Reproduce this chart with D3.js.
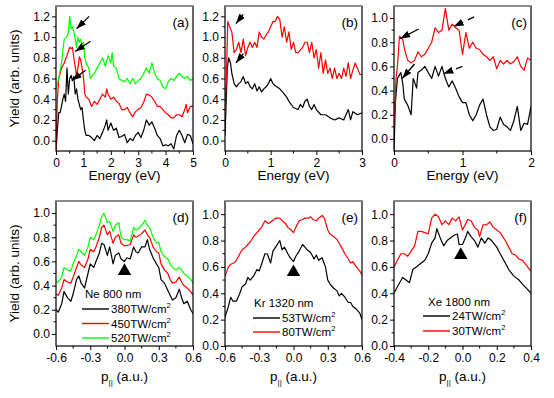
<!DOCTYPE html>
<html>
<head>
<meta charset="utf-8">
<script src="https://cdn.jsdelivr.net/npm/d3@7/dist/d3.min.js"></script>
<style>
  body { margin: 0; background: #fff; }
  svg { font-family: "Liberation Sans", Arial, sans-serif; }
</style>
</head>
<body>
<div id="chart"></div>
<script>
// ---- data: [x, yield] pairs ----
const aBlack = [[0,-0.1],[0.05,0.1],[0.1,0.27],[0.15,0.27],[0.2,0.33],[0.25,0.4],[0.3,0.45],[0.35,0.38],[0.4,0.7],[0.45,0.45],[0.5,0.6],[0.55,0.63],[0.6,0.58],[0.65,0.62],[0.7,0.45],[0.75,0.5],[0.8,0.4],[0.85,0.35],[0.9,0.3],[0.95,0.32],[1.0,0.2],[1.05,0.1],[1.1,0.05],[1.2,0.05],[1.3,0.03],[1.4,0.0],[1.5,0.05],[1.6,0.02],[1.7,0.08],[1.8,0.15],[1.85,0.2],[1.9,0.1],[2.0,0.17],[2.1,0.1],[2.2,0.12],[2.3,0.03],[2.4,0.04],[2.5,0.06],[2.6,-0.02],[2.7,0.02],[2.8,0.0],[2.9,0.05],[3.0,0.08],[3.1,0.03],[3.2,0.1],[3.3,0.2],[3.4,0.15],[3.5,0.18],[3.6,0.12],[3.7,0.05],[3.8,0.02],[3.9,-0.05],[4.0,-0.04],[4.1,-0.05],[4.2,-0.03],[4.3,-0.08],[4.4,0.05],[4.5,0.1],[4.6,0.05],[4.7,-0.02],[4.8,0.06],[4.9,0.05],[5.0,-0.03]];
const aRed = [[0,-0.1],[0.05,0.4],[0.1,0.6],[0.15,0.65],[0.2,0.7],[0.3,0.75],[0.4,0.82],[0.5,0.9],[0.55,0.89],[0.6,0.9],[0.65,0.8],[0.7,0.72],[0.75,0.62],[0.8,0.7],[0.85,0.81],[0.9,0.78],[0.95,0.7],[1.0,0.62],[1.05,0.45],[1.1,0.42],[1.2,0.4],[1.3,0.33],[1.4,0.38],[1.5,0.35],[1.6,0.4],[1.7,0.45],[1.8,0.42],[1.85,0.5],[1.9,0.45],[2.0,0.4],[2.1,0.42],[2.2,0.38],[2.3,0.36],[2.4,0.3],[2.5,0.3],[2.6,0.32],[2.7,0.27],[2.8,0.23],[2.9,0.28],[3.0,0.3],[3.1,0.32],[3.2,0.37],[3.3,0.45],[3.4,0.44],[3.5,0.42],[3.6,0.38],[3.7,0.33],[3.8,0.33],[3.9,0.3],[4.0,0.27],[4.1,0.25],[4.2,0.22],[4.3,0.22],[4.4,0.25],[4.5,0.25],[4.6,0.23],[4.7,0.3],[4.75,0.35],[4.8,0.27],[4.9,0.33],[5.0,0.33]];
const aGreen = [[0,0.5],[0.05,0.55],[0.1,0.6],[0.2,0.75],[0.3,0.98],[0.4,1.0],[0.45,1.05],[0.5,1.2],[0.55,1.08],[0.6,1.1],[0.65,1.05],[0.7,0.98],[0.75,0.9],[0.8,1.0],[0.85,0.95],[0.9,0.98],[0.95,0.92],[1.0,0.95],[1.05,0.8],[1.1,0.75],[1.2,0.7],[1.25,0.6],[1.3,0.62],[1.4,0.65],[1.5,0.7],[1.6,0.75],[1.7,0.8],[1.8,0.72],[1.9,0.82],[2.0,0.75],[2.05,0.85],[2.1,0.72],[2.2,0.7],[2.3,0.6],[2.4,0.58],[2.5,0.57],[2.6,0.6],[2.7,0.55],[2.8,0.6],[2.9,0.55],[3.0,0.58],[3.1,0.6],[3.2,0.65],[3.3,0.7],[3.4,0.65],[3.5,0.75],[3.6,0.65],[3.7,0.6],[3.8,0.58],[3.9,0.52],[4.0,0.5],[4.1,0.57],[4.2,0.6],[4.3,0.58],[4.4,0.62],[4.5,0.65],[4.6,0.62],[4.7,0.6],[4.8,0.62],[4.9,0.58],[5.0,0.6]];

const bBlack = [[0,0.05],[0.02,0.3],[0.05,0.7],[0.08,0.8],[0.12,0.75],[0.15,0.65],[0.2,0.55],[0.25,0.52],[0.3,0.55],[0.35,0.57],[0.4,0.62],[0.45,0.55],[0.5,0.57],[0.55,0.52],[0.6,0.5],[0.65,0.55],[0.7,0.48],[0.75,0.52],[0.8,0.47],[0.85,0.5],[0.9,0.52],[0.95,0.55],[1.0,0.6],[1.05,0.55],[1.1,0.53],[1.2,0.5],[1.3,0.45],[1.35,0.42],[1.4,0.38],[1.5,0.32],[1.6,0.3],[1.65,0.35],[1.7,0.32],[1.75,0.38],[1.8,0.4],[1.85,0.33],[1.9,0.3],[1.95,0.35],[2.0,0.3],[2.1,0.25],[2.2,0.25],[2.3,0.22],[2.4,0.2],[2.5,0.22],[2.6,0.2],[2.7,0.3],[2.75,0.2],[2.8,0.28],[2.9,0.25],[3.0,0.27]];
const bRed = [[0,0.3],[0.03,0.6],[0.06,1.15],[0.1,1.1],[0.15,1.05],[0.2,0.85],[0.25,0.88],[0.3,0.95],[0.35,0.85],[0.4,0.98],[0.45,0.82],[0.5,0.9],[0.55,0.95],[0.6,0.9],[0.65,0.95],[0.7,0.9],[0.75,1.05],[0.8,1.0],[0.85,0.98],[0.9,1.02],[0.95,1.05],[1.0,1.1],[1.05,1.15],[1.1,1.15],[1.15,1.2],[1.2,1.17],[1.25,1.0],[1.3,1.1],[1.35,0.95],[1.4,1.05],[1.45,0.88],[1.5,0.95],[1.55,0.85],[1.6,0.85],[1.7,0.9],[1.75,0.95],[1.8,0.95],[1.85,0.85],[1.9,0.95],[1.95,0.8],[2.0,0.88],[2.05,0.7],[2.1,0.85],[2.15,0.65],[2.2,0.78],[2.25,0.65],[2.3,0.7],[2.35,0.6],[2.4,0.7],[2.45,0.6],[2.5,0.65],[2.55,0.6],[2.6,0.7],[2.65,0.62],[2.7,0.75],[2.75,0.6],[2.8,0.68],[2.85,0.75],[2.9,0.7],[2.95,0.64],[3.0,0.64]];

const cBlack = [[0,-0.1],[0.02,0.3],[0.05,0.5],[0.08,0.53],[0.1,0.55],[0.13,0.45],[0.15,0.33],[0.2,0.28],[0.25,0.2],[0.28,0.5],[0.3,0.47],[0.33,0.42],[0.35,0.55],[0.4,0.57],[0.45,0.6],[0.5,0.55],[0.55,0.5],[0.6,0.6],[0.65,0.52],[0.7,0.6],[0.75,0.5],[0.8,0.43],[0.85,0.48],[0.9,0.42],[0.95,0.35],[1.0,0.3],[1.05,0.3],[1.1,0.2],[1.15,0.15],[1.2,0.2],[1.25,0.28],[1.3,0.33],[1.35,0.2],[1.4,0.1],[1.45,0.07],[1.5,0.08],[1.55,0.18],[1.6,0.12],[1.65,0.1],[1.7,0.07],[1.75,0.15],[1.8,0.27],[1.85,0.07],[1.9,0.13],[1.95,0.12],[2.0,0.27]];
const cRed = [[0,0.1],[0.03,0.5],[0.05,0.6],[0.08,0.85],[0.1,0.84],[0.13,0.82],[0.15,0.75],[0.2,0.65],[0.25,0.63],[0.3,0.65],[0.35,0.72],[0.4,0.68],[0.45,0.7],[0.5,0.75],[0.55,0.8],[0.6,0.92],[0.65,0.88],[0.7,0.9],[0.75,1.08],[0.8,0.9],[0.85,0.95],[0.9,0.92],[0.95,0.9],[1.0,0.7],[1.05,0.88],[1.1,0.75],[1.15,0.8],[1.2,0.75],[1.25,0.74],[1.3,0.7],[1.35,0.68],[1.4,0.65],[1.45,0.68],[1.5,0.58],[1.55,0.65],[1.6,0.62],[1.65,0.65],[1.7,0.62],[1.75,0.64],[1.8,0.68],[1.85,0.6],[1.9,0.57],[1.95,0.67],[2.0,0.65]];

const dBlack = [[-0.6,0.2],[-0.58,0.18],[-0.55,0.25],[-0.53,0.35],[-0.5,0.3],[-0.47,0.27],[-0.45,0.33],[-0.42,0.45],[-0.4,0.48],[-0.38,0.42],[-0.35,0.38],[-0.32,0.5],[-0.3,0.58],[-0.27,0.55],[-0.25,0.6],[-0.22,0.67],[-0.2,0.75],[-0.18,0.74],[-0.15,0.65],[-0.13,0.72],[-0.1,0.58],[-0.08,0.65],[-0.05,0.67],[-0.03,0.62],[0,0.6],[0.02,0.63],[0.05,0.62],[0.08,0.72],[0.1,0.68],[0.12,0.67],[0.15,0.72],[0.18,0.72],[0.2,0.78],[0.22,0.7],[0.25,0.63],[0.28,0.58],[0.3,0.55],[0.32,0.45],[0.35,0.42],[0.38,0.36],[0.4,0.32],[0.42,0.28],[0.45,0.3],[0.48,0.37],[0.5,0.3],[0.52,0.25],[0.55,0.27],[0.58,0.2],[0.6,0.17]];
const dRed = [[-0.6,0.33],[-0.58,0.32],[-0.55,0.38],[-0.53,0.45],[-0.5,0.43],[-0.47,0.42],[-0.45,0.47],[-0.42,0.55],[-0.4,0.6],[-0.38,0.57],[-0.35,0.55],[-0.32,0.62],[-0.3,0.7],[-0.27,0.68],[-0.25,0.72],[-0.22,0.8],[-0.2,0.88],[-0.18,0.9],[-0.15,0.82],[-0.13,0.85],[-0.1,0.75],[-0.08,0.8],[-0.05,0.82],[-0.03,0.75],[0,0.73],[0.02,0.73],[0.05,0.74],[0.08,0.82],[0.1,0.8],[0.12,0.81],[0.15,0.83],[0.18,0.86],[0.2,0.82],[0.22,0.8],[0.25,0.72],[0.28,0.68],[0.3,0.67],[0.32,0.58],[0.35,0.53],[0.38,0.5],[0.4,0.45],[0.42,0.42],[0.45,0.43],[0.48,0.47],[0.5,0.43],[0.52,0.4],[0.55,0.38],[0.58,0.35],[0.6,0.32]];
const dGreen = [[-0.6,0.43],[-0.58,0.43],[-0.55,0.47],[-0.53,0.55],[-0.5,0.53],[-0.47,0.52],[-0.45,0.58],[-0.42,0.65],[-0.4,0.7],[-0.38,0.68],[-0.35,0.65],[-0.32,0.72],[-0.3,0.8],[-0.27,0.78],[-0.25,0.82],[-0.22,0.9],[-0.2,0.97],[-0.18,1.0],[-0.15,0.92],[-0.13,0.93],[-0.1,0.85],[-0.08,0.9],[-0.05,0.92],[-0.03,0.8],[0,0.78],[0.02,0.78],[0.05,0.77],[0.08,0.88],[0.1,0.86],[0.12,0.87],[0.15,0.9],[0.18,0.94],[0.2,0.9],[0.22,0.88],[0.25,0.8],[0.28,0.75],[0.3,0.76],[0.32,0.68],[0.35,0.64],[0.38,0.62],[0.4,0.58],[0.42,0.55],[0.45,0.53],[0.48,0.55],[0.5,0.53],[0.52,0.5],[0.55,0.48],[0.58,0.45],[0.6,0.42]];

const eBlack = [[-0.6,0.22],[-0.57,0.3],[-0.55,0.37],[-0.53,0.34],[-0.5,0.34],[-0.47,0.4],[-0.45,0.45],[-0.42,0.47],[-0.4,0.52],[-0.38,0.5],[-0.35,0.53],[-0.32,0.58],[-0.3,0.57],[-0.28,0.62],[-0.25,0.7],[-0.23,0.7],[-0.2,0.63],[-0.18,0.72],[-0.15,0.76],[-0.12,0.8],[-0.1,0.73],[-0.08,0.75],[-0.05,0.7],[-0.03,0.67],[0,0.64],[0.02,0.68],[0.05,0.72],[0.08,0.77],[0.1,0.75],[0.12,0.73],[0.15,0.71],[0.18,0.66],[0.2,0.69],[0.22,0.65],[0.25,0.67],[0.28,0.6],[0.3,0.5],[0.32,0.47],[0.35,0.44],[0.38,0.42],[0.4,0.38],[0.42,0.4],[0.45,0.37],[0.48,0.33],[0.5,0.33],[0.52,0.3],[0.55,0.28],[0.58,0.25],[0.6,0.2]];
const eRed = [[-0.6,0.53],[-0.57,0.6],[-0.55,0.62],[-0.52,0.63],[-0.5,0.65],[-0.47,0.7],[-0.45,0.73],[-0.42,0.75],[-0.4,0.77],[-0.37,0.8],[-0.35,0.83],[-0.32,0.86],[-0.3,0.88],[-0.28,0.9],[-0.25,0.95],[-0.22,0.93],[-0.2,0.94],[-0.17,0.96],[-0.15,0.97],[-0.12,0.97],[-0.1,0.95],[-0.07,0.93],[-0.05,0.9],[-0.02,0.88],[0,0.86],[0.02,0.9],[0.05,0.95],[0.08,0.96],[0.1,0.97],[0.13,0.97],[0.15,0.98],[0.17,0.96],[0.2,0.95],[0.22,0.97],[0.25,0.99],[0.27,0.97],[0.3,0.88],[0.32,0.85],[0.35,0.83],[0.38,0.81],[0.4,0.78],[0.42,0.75],[0.45,0.7],[0.48,0.66],[0.5,0.63],[0.52,0.64],[0.55,0.6],[0.58,0.57],[0.6,0.54]];

const fBlack = [[-0.4,0.4],[-0.38,0.45],[-0.35,0.52],[-0.33,0.5],[-0.31,0.48],[-0.29,0.58],[-0.27,0.6],[-0.25,0.62],[-0.22,0.65],[-0.2,0.7],[-0.18,0.78],[-0.16,0.82],[-0.15,0.89],[-0.13,0.82],[-0.11,0.76],[-0.09,0.8],[-0.07,0.82],[-0.05,0.84],[-0.03,0.85],[-0.02,0.77],[0,0.77],[0.02,0.83],[0.03,0.87],[0.05,0.83],[0.07,0.8],[0.09,0.75],[0.11,0.82],[0.13,0.78],[0.15,0.82],[0.17,0.8],[0.2,0.75],[0.22,0.7],[0.25,0.63],[0.27,0.58],[0.3,0.53],[0.33,0.5],[0.35,0.47],[0.38,0.43],[0.4,0.4]];
const fRed = [[-0.4,0.6],[-0.38,0.65],[-0.36,0.7],[-0.34,0.7],[-0.32,0.68],[-0.3,0.72],[-0.28,0.76],[-0.26,0.87],[-0.24,0.87],[-0.22,0.86],[-0.2,0.85],[-0.18,0.97],[-0.16,1.0],[-0.14,0.98],[-0.12,0.92],[-0.1,0.95],[-0.08,0.92],[-0.06,0.97],[-0.04,0.95],[-0.02,0.98],[0,0.88],[0.02,0.93],[0.03,0.96],[0.05,0.95],[0.07,0.9],[0.09,0.88],[0.1,0.83],[0.12,0.92],[0.14,0.92],[0.16,0.94],[0.18,0.9],[0.2,0.88],[0.22,0.86],[0.25,0.8],[0.27,0.75],[0.29,0.7],[0.31,0.69],[0.33,0.66],[0.35,0.65],[0.38,0.6],[0.4,0.57]];

// arrows: [tailX, tailY, tipX, tipY, dashed]
const aArrows = [[1.21,1.2,0.75,1.08,0],[1.26,0.96,0.7,0.86,0],[1.08,0.68,0.58,0.58,0]];
const bArrows = [[0.4,1.22,0.24,1.13,0],[0.4,0.84,0.24,0.75,0]];
const cArrows = [[0.36,0.91,0.09,0.83,0],[0.3,0.62,0.12,0.5,0],[1.17,1.01,0.87,0.93,1],[1.0,0.6,0.72,0.54,1]];

// triangle markers at p = 0
const dTriangle = [0, 0.52];
const eTriangle = [0, 0.56];
const fTriangle = [-0.01, 0.69];

// legends
const dTitle = 'Ne 800 nm', dIntensity = ['380', '450', '520'];
const eTitle = 'Kr 1320 nm', eIntensity = ['53', '80'];
const fTitle = 'Xe 1800 nm', fIntensity = ['24', '30'];

// tick values
const xTicksA = [0, 1, 2, 3, 4, 5];
const xTicksB = [0, 1, 2, 3];
const xTicksC = [0, 1, 2];
const xTicksDE = [-0.6, -0.3, 0, 0.3, 0.6];
const xTicksF = [-0.4, -0.2, 0, 0.2, 0.4];
const yTicks12 = [0, 0.2, 0.4, 0.6, 0.8, 1.0, 1.2];
const yTicks10 = [0, 0.2, 0.4, 0.6, 0.8, 1.0];

const W = 554, H = 398;
const RED = '#ff0000', GREEN = '#00ff00', BLACK = '#000';

const svg = d3.select('#chart').append('svg')
  .attr('width', W)
  .attr('height', H);

const defs = svg.append('defs');
defs.append('marker')
  .attr('id', 'head')
  .attr('markerUnits', 'userSpaceOnUse')
  .attr('viewBox', '0 0 10 7')
  .attr('refX', 10).attr('refY', 3.5)
  .attr('markerWidth', 10).attr('markerHeight', 7)
  .attr('orient', 'auto')
  .append('path')
  .attr('d', 'M0,0L10,3.5L0,7Z')
  .attr('fill', '#000');

const colX = [56, 225, 394];
const rowY = [6, 201];
const pw = 137, ph = 145;

const fmtInt = d => d3.format('d')(d);
const fmtOne = d => d.toFixed(1);

const panels = [
  {key: 'a', col: 0, row: 0, xd: [0, 5], yd: [-0.1, 1.3], xt: xTicksA, xm: 0.5, yt: yTicks12, xf: fmtInt,
   series: [[aBlack, BLACK], [aRed, RED], [aGreen, GREEN]], arrows: aArrows},
  {key: 'b', col: 1, row: 0, xd: [0, 3], yd: [-0.1, 1.3], xt: xTicksB, xm: 0.5, yt: yTicks12, xf: fmtInt,
   series: [[bBlack, BLACK], [bRed, RED]], arrows: bArrows},
  {key: 'c', col: 2, row: 0, xd: [0, 2], yd: [-0.1, 1.1], xt: xTicksC, xm: 0.5, yt: yTicks10, xf: fmtInt,
   series: [[cBlack, BLACK], [cRed, RED]], arrows: cArrows},
  {key: 'd', col: 0, row: 1, xd: [-0.6, 0.6], yd: [-0.1, 1.1], xt: xTicksDE, xm: 0.15, yt: yTicks10, xf: fmtOne,
   series: [[dBlack, BLACK], [dRed, RED], [dGreen, GREEN]], tri: dTriangle,
   legend: {title: dTitle, items: dIntensity, colors: [BLACK, RED, GREEN], tx: 29, ty: 97, lx: 26, ly: 108, dy: 14.5}},
  {key: 'e', col: 1, row: 1, xd: [-0.6, 0.6], yd: [0, 1.1], xt: xTicksDE, xm: 0.15, yt: yTicks10, xf: fmtOne,
   series: [[eBlack, BLACK], [eRed, RED]], tri: eTriangle,
   legend: {title: eTitle, items: eIntensity, colors: [BLACK, RED], tx: 29, ty: 106, lx: 28, ly: 117, dy: 14}},
  {key: 'f', col: 2, row: 1, xd: [-0.4, 0.4], yd: [0, 1.1], xt: xTicksF, xm: 0.1, yt: yTicks10, xf: fmtOne,
   series: [[fBlack, BLACK], [fRed, RED]], tri: fTriangle,
   legend: {title: fTitle, items: fIntensity, colors: [BLACK, RED], tx: 34, ty: 105, lx: 29, ly: 115, dy: 15}}
];

panels.forEach(p => {
  const x0 = colX[p.col], y0 = rowY[p.row];
  const x = d3.scaleLinear().domain(p.xd).range([x0, x0 + pw]);
  const y = d3.scaleLinear().domain(p.yd).range([y0 + ph, y0]);
  const g = svg.append('g').attr('class', 'panel-' + p.key);

  defs.append('clipPath').attr('id', 'clip-' + p.key)
    .append('rect').attr('x', x0).attr('y', y0).attr('width', pw).attr('height', ph);

  // curves
  const line = d3.line().x(d => x(d[0])).y(d => y(d[1]));
  const curves = g.append('g').attr('clip-path', `url(#clip-${p.key})`);
  p.series.forEach(([data, color]) => {
    curves.append('path')
      .datum(data)
      .attr('d', line)
      .attr('fill', 'none')
      .attr('stroke', color)
      .attr('stroke-width', 1.2)
      .attr('stroke-linejoin', 'round');
  });

  // arrows
  (p.arrows || []).forEach(a => {
    g.append('line')
      .attr('x1', x(a[0])).attr('y1', y(a[1]))
      .attr('x2', x(a[2])).attr('y2', y(a[3]))
      .attr('stroke', '#000')
      .attr('stroke-width', 1.3)
      .attr('stroke-dasharray', a[4] ? '7,5' : null)
      .attr('marker-end', 'url(#head)');
  });

  // triangle
  if (p.tri) {
    g.append('path')
      .attr('d', d3.symbol().type(d3.symbolTriangle).size(78)())
      .attr('transform', `translate(${x(p.tri[0])},${y(p.tri[1])})`)
      .attr('fill', '#000');
  }

  // axes
  const xAxis = g.append('g')
    .attr('transform', `translate(0,${y0 + ph})`)
    .call(d3.axisBottom(x).tickValues(p.xt).tickFormat(p.xf).tickSize(4).tickSizeOuter(0).tickPadding(3));
  const yAxis = g.append('g')
    .attr('transform', `translate(${x0},0)`)
    .call(d3.axisLeft(y).tickValues(p.yt).tickFormat(fmtOne).tickSize(4).tickSizeOuter(0).tickPadding(2));
  [xAxis, yAxis].forEach(ax => {
    ax.select('.domain').remove();
    ax.selectAll('text').attr('font-size', 12).attr('font-family', '"Liberation Sans", Arial, sans-serif').attr('fill', '#000');
  });

  // minor ticks
  const xMinor = d3.range(p.xt[0] + p.xm, p.xt[p.xt.length - 1], p.xm * 2);
  g.selectAll(null).data(xMinor).enter().append('line')
    .attr('x1', d => x(d)).attr('x2', d => x(d))
    .attr('y1', y0 + ph).attr('y2', y0 + ph + 2.5)
    .attr('stroke', '#000');
  const yMinor = d3.range(0.1, p.yd[1], 0.2);
  g.selectAll(null).data(yMinor).enter().append('line')
    .attr('x1', x0).attr('x2', x0 - 2.5)
    .attr('y1', d => y(d)).attr('y2', d => y(d))
    .attr('stroke', '#000');

  // frame
  g.append('rect')
    .attr('x', x0).attr('y', y0).attr('width', pw).attr('height', ph)
    .attr('fill', 'none').attr('stroke', '#000').attr('stroke-width', 1.2);
  g.append('line')
    .attr('x1', x0).attr('x2', x0 + pw).attr('y1', y0).attr('y2', y0)
    .attr('stroke', '#999').attr('stroke-width', 1.4);

  // panel letter
  g.append('text')
    .attr('x', x0 + pw - 4).attr('y', y0 + 21)
    .attr('text-anchor', 'end')
    .attr('font-size', 13.5)
    .text(`(${p.key})`);

  // legend
  if (p.legend) {
    const L = p.legend;
    g.append('text')
      .attr('x', x0 + L.tx).attr('y', y0 + L.ty)
      .attr('font-size', 11.5)
      .text(L.title);
    L.items.forEach((v, i) => {
      const ly = y0 + L.ly + i * L.dy;
      g.append('line')
        .attr('x1', x0 + L.lx).attr('x2', x0 + L.lx + 27)
        .attr('y1', ly).attr('y2', ly)
        .attr('stroke', L.colors[i]).attr('stroke-width', 1.4);
      const t = g.append('text')
        .attr('x', x0 + L.lx + 29).attr('y', ly + 4)
        .attr('font-size', 11.5);
      t.append('tspan').text(v + 'TW/cm');
      t.append('tspan').attr('font-size', 7.5).attr('dy', -5).text('2');
    });
  }

  // x title
  const xt = g.append('text')
    .attr('x', x0 + pw / 2)
    .attr('y', p.row === 0 ? 180 : 381)
    .attr('text-anchor', 'middle')
    .attr('font-size', 13.5);
  if (p.row === 0) {
    xt.text('Energy (eV)');
  } else {
    xt.append('tspan').text('p');
    xt.append('tspan').attr('font-size', 8).attr('dy', 4).text('||');
    xt.append('tspan').attr('dy', -4).text(' (a.u.)');
  }

  // y title
  if (p.col === 0) {
    g.append('text')
      .attr('transform', `translate(19,${y0 + ph / 2}) rotate(-90)`)
      .attr('text-anchor', 'middle')
      .attr('font-size', 13.5)
      .text('Yield (arb. units)');
  }
});
</script>
</body>
</html>
